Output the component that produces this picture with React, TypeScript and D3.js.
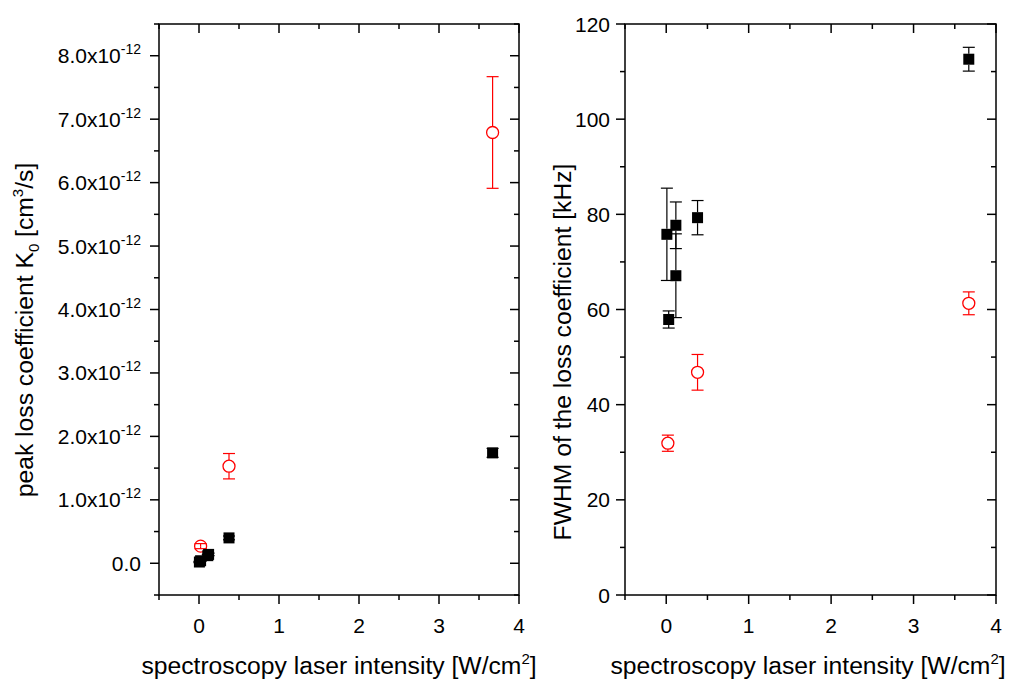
import React from "react";
import * as d3 from "d3";

// ---------- data ----------
const xTicks = [0, 1, 2, 3, 4];
const xMinor = [-0.5, 0.5, 1.5, 2.5, 3.5];
const k0Ticks = [0, 1, 2, 3, 4, 5, 6, 7, 8];
const k0Minor = [-0.5, 0.5, 1.5, 2.5, 3.5, 4.5, 5.5, 6.5, 7.5, 8.5];
const fwhmTicks = [0, 20, 40, 60, 80, 100, 120];
const fwhmMinor = [10, 30, 50, 70, 90, 110];

// left panel: peak loss coefficient (units 1e-12 cm^3/s)
const k0BlackX = [0.005, 0.02, 0.11, 0.12, 0.375, 3.67];
const k0Black = [0.02, 0.04, 0.12, 0.14, 0.4, 1.74];
const k0BlackErr = [0.01, 0.01, 0.02, 0.02, 0.03, 0.07];
const k0RedX = [0.02, 0.375, 3.67];
const k0Red = [0.27, 1.53, 6.79];
const k0RedErr = [0.04, 0.2, 0.88];

// right panel: FWHM [kHz]
const fwhmBlackX = [0.008, 0.03, 0.117, 0.117, 0.38, 3.67];
const fwhmBlack = [75.8, 57.9, 77.7, 67.1, 79.3, 112.6];
const fwhmBlackErr = [9.7, 1.8, 4.9, 8.8, 3.6, 2.5];
const fwhmRedX = [0.02, 0.38, 3.67];
const fwhmRed = [31.9, 46.8, 61.3];
const fwhmRedErr = [1.7, 3.75, 2.4];

const FONT = "'Liberation Sans', Arial, sans-serif";
const TICK_FS = 21;
const TITLE_FS = 24.7;
const MAJ = 9;
const MIN = 5;
const SQ = 11;
const R = 6;
const CAP = 6;

type Panel = {
  x0: number; x1: number; y0: number; y1: number;
  yDomain: [number, number];
  yTicks: number[]; yMinor: number[];
  yLabel: (v: number) => React.ReactNode;
  labelRight: number;
};

function ErrBar({ cx, cy, top, bot, color, r }: { cx: number; cy: number; top: number; bot: number; color: string; r: number }) {
  const els: React.ReactNode[] = [];
  if (cy - top > r) els.push(<line key="u" x1={cx} x2={cx} y1={top} y2={cy - r} />);
  else els.push(<line key="u" x1={cx} x2={cx} y1={top} y2={cy} />);
  if (bot - cy > r) els.push(<line key="d" x1={cx} x2={cx} y1={cy + r} y2={bot} />);
  else els.push(<line key="d" x1={cx} x2={cx} y1={cy} y2={bot} />);
  els.push(<line key="ct" x1={cx - CAP} x2={cx + CAP} y1={top} y2={top} />);
  els.push(<line key="cb" x1={cx - CAP} x2={cx + CAP} y1={bot} y2={bot} />);
  return <g stroke={color} strokeWidth={1.2}>{els}</g>;
}

function Frame({ p, x, y, xTitleX, yTitleX, yTitleY, yTitle }: any) {
  return (
    <g fontFamily={FONT} fill="#000">
      <g stroke="#000" strokeWidth={1.5}>
        {xTicks.map((t) => (
          <g key={"xt" + t}>
            <line x1={x(t)} x2={x(t)} y1={p.y0} y2={p.y0 + MAJ} />
            <line x1={x(t)} x2={x(t)} y1={p.y1} y2={p.y1 + MAJ} />
          </g>
        ))}
        {xMinor.map((t) => (
          <g key={"xm" + t}>
            <line x1={x(t)} x2={x(t)} y1={p.y0} y2={p.y0 + MIN} />
            <line x1={x(t)} x2={x(t)} y1={p.y1} y2={p.y1 + MIN} />
          </g>
        ))}
        {p.yTicks.map((t: number) => (
          <g key={"yt" + t}>
            <line x1={p.x0 - MAJ} x2={p.x0} y1={y(t)} y2={y(t)} />
            <line x1={p.x1 - MAJ} x2={p.x1} y1={y(t)} y2={y(t)} />
          </g>
        ))}
        {p.yMinor.map((t: number) => (
          <g key={"ym" + t}>
            <line x1={p.x0 - MIN} x2={p.x0} y1={y(t)} y2={y(t)} />
            <line x1={p.x1 - MIN} x2={p.x1} y1={y(t)} y2={y(t)} />
          </g>
        ))}
        <rect x={p.x0} y={p.y1} width={p.x1 - p.x0} height={p.y0 - p.y1} fill="none" />
      </g>
      {xTicks.map((t) => (
        <text key={"xl" + t} x={x(t)} y={p.y0 + 38} textAnchor="middle" fontSize={TICK_FS}>{t}</text>
      ))}
      {p.yTicks.map((t: number) => (
        <text key={"yl" + t} x={p.labelRight} y={y(t) + 7.5} textAnchor="end" fontSize={TICK_FS}>{p.yLabel(t)}</text>
      ))}
      <text x={xTitleX} y={674} textAnchor="middle" fontSize={TITLE_FS}>
        spectroscopy laser intensity [W/cm<tspan fontSize={15} dy={-10}>2</tspan><tspan dy={10}>]</tspan>
      </text>
      <text transform={`translate(${yTitleX},${yTitleY}) rotate(-90)`} textAnchor="middle" fontSize={TITLE_FS}>
        {yTitle}
      </text>
    </g>
  );
}

export default function App() {
  const L: Panel = {
    x0: 159, x1: 519, y0: 595, y1: 24,
    yDomain: [-0.5, 8.5], yTicks: k0Ticks, yMinor: k0Minor,
    yLabel: (v) =>
      v === 0 ? (
        <>0.0</>
      ) : (
        <>
          {v.toFixed(1)}x10<tspan fontSize={14} dy={-9}>-12</tspan>
        </>
      ),
    labelRight: 141,
  };
  const xL = d3.scaleLinear().domain([-0.5, 4]).range([L.x0, L.x1]);
  const yL = d3.scaleLinear().domain(L.yDomain).range([L.y0, L.y1]);

  const Rp: Panel = {
    x0: 625, x1: 996, y0: 595, y1: 24,
    yDomain: [0, 120], yTicks: fwhmTicks, yMinor: fwhmMinor,
    yLabel: (v) => <>{v}</>,
    labelRight: 610,
  };
  const xR = d3.scaleLinear().domain([-0.5, 4]).range([Rp.x0, Rp.x1]);
  const yR = d3.scaleLinear().domain(Rp.yDomain).range([Rp.y0, Rp.y1]);

  const red = "#ff0000";

  const drawBlack = (xs: number[], ys: number[], es: number[], xs_: any, ys_: any) =>
    xs.map((xv, i) => {
      const cx = xs_(xv), cy = ys_(ys[i]);
      return (
        <g key={"b" + i}>
          <ErrBar cx={cx} cy={cy} top={ys_(ys[i] + es[i])} bot={ys_(ys[i] - es[i])} color="#000" r={SQ / 2} />
          <rect x={cx - SQ / 2} y={cy - SQ / 2} width={SQ} height={SQ} fill="#000" />
        </g>
      );
    });

  const drawRed = (xs: number[], ys: number[], es: number[], xs_: any, ys_: any) =>
    xs.map((xv, i) => {
      const cx = xs_(xv), cy = ys_(ys[i]);
      return (
        <g key={"r" + i}>
          <circle cx={cx} cy={cy} r={R} fill="#fff" stroke={red} strokeWidth={1.3} />
          <ErrBar cx={cx} cy={cy} top={ys_(ys[i] + es[i])} bot={ys_(ys[i] - es[i])} color={red} r={R} />
        </g>
      );
    });

  return (
    <svg width={1011} height={682} style={{ position: "absolute", left: 0, top: 0, background: "#fff" }}>
      <rect width={1011} height={682} fill="#fff" />
      <Frame
        p={L} x={xL} y={yL} xTitleX={339} yTitleX={33} yTitleY={330}
        yTitle={
          <>
            peak loss coefficient K<tspan fontSize={15} dy={6}>0</tspan>
            <tspan dy={-6}> [cm</tspan>
            <tspan fontSize={15} dy={-10}>3</tspan>
            <tspan dy={10}>/s]</tspan>
          </>
        }
      />
      {drawRed(k0RedX, k0Red, k0RedErr, xL, yL)}
      {drawBlack(k0BlackX, k0Black, k0BlackErr, xL, yL)}

      <Frame
        p={Rp} x={xR} y={yR} xTitleX={808} yTitleX={571} yTitleY={352}
        yTitle={<>FWHM of the loss coefficient [kHz]</>}
      />
      {drawBlack(fwhmBlackX, fwhmBlack, fwhmBlackErr, xR, yR)}
      {drawRed(fwhmRedX, fwhmRed, fwhmRedErr, xR, yR)}
    </svg>
  );
}
